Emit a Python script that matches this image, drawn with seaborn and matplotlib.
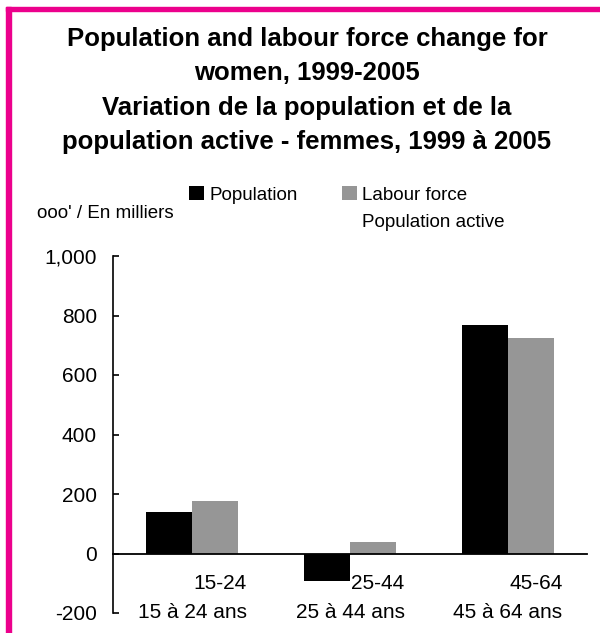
import matplotlib
matplotlib.use("Agg")
import matplotlib.pyplot as plt
import seaborn as sns
import pandas as pd
from matplotlib.patches import Rectangle
from matplotlib.ticker import FuncFormatter

groups = ["15-24", "25-44", "45-64"]
group_labels = ["15-24\n15 à 24 ans", "25-44\n25 à 44 ans", "45-64\n45 à 64 ans"]
series_names = ["Population", "Labour force"]
series_label2 = "Population active"
population = [138, -94, 768]
labour_force = [178, 37, 725]
yticks = [-200, 0, 200, 400, 600, 800, 1000]

df = pd.DataFrame({
    "group": groups * 2,
    "series": [series_names[0]] * 3 + [series_names[1]] * 3,
    "value": population + labour_force,
})

sns.set_theme(style="white")
plt.rcParams["font.family"] = ["Liberation Sans", "DejaVu Sans"]
plt.rcParams["text.color"] = "black"
plt.rcParams["xtick.color"] = "black"
plt.rcParams["ytick.color"] = "black"
plt.rcParams["axes.labelcolor"] = "black"

W, H = 600, 633
fig = plt.figure(figsize=(6, 6.33), dpi=100)
ax = fig.add_axes([113 / W, 1 - 613 / H, (587 - 113) / W, (613 - 256) / H])

sns.barplot(data=df, x="group", y="value", hue="series",
            palette=["#000000", "#969696"], width=0.58, saturation=1,
            linewidth=0, ax=ax)

ax.set_ylim(-200, 1000)
ax.set_xlim(-0.5, 2.5)
ax.set_yticks(yticks)
ax.yaxis.set_major_formatter(FuncFormatter(lambda v, p: f"{v:,.0f}"))
ax.set_xlabel("")
ax.set_ylabel("")
ax.set_xticks(range(len(groups)))
ax.set_xticklabels(group_labels)
ax.tick_params(axis="x", length=0, pad=14.5, labelsize=15, colors="black")
ax.tick_params(axis="y", direction="in", length=4, width=1.2, pad=11.5,
               labelsize=15, colors="black", left=True)

for s in ["top", "right"]:
    ax.spines[s].set_visible(False)
ax.spines["bottom"].set_position(("data", 0))
ax.spines["bottom"].set_linewidth(1.3)
ax.spines["bottom"].set_color("black")
ax.spines["left"].set_linewidth(1.2)
ax.spines["left"].set_color("black")

handles, labels = ax.get_legend_handles_labels()
leg = ax.legend(handles, series_names, ncol=2, frameon=False, loc="upper left",
                bbox_to_anchor=(189 / W, 1 - 186 / H), bbox_transform=fig.transFigure,
                handlelength=0.8, handleheight=0.8, handletextpad=0.3,
                columnspacing=2.34, fontsize=13.5, borderpad=0, borderaxespad=0)

fig.canvas.draw()
for tick in ax.xaxis.get_major_ticks():
    tick.label1.set_multialignment("right")
    tick.label1.set_linespacing(1.67)
bb = leg.get_texts()[1].get_window_extent()
fig.text(bb.x0 / W, 1 - 222 / H, series_label2, fontsize=13.5, va="center", ha="left")

fig.text(37 / W, 1 - 213 / H, "ooo' / En milliers", fontsize=13.5, va="center", ha="left")

fig.text(307 / W, 1 - 27 / H,
         "Population and labour force change for\nwomen, 1999-2005\n"
         "Variation de la population et de la\npopulation active - femmes, 1999 à 2005",
         fontsize=18.5, fontweight="bold", ha="center", va="top", linespacing=1.54)

pink = "#EC008C"
fig.patches.append(Rectangle((6 / W, 0), 5 / W, 1 - 7 / H, transform=fig.transFigure,
                             color=pink, zorder=10))
fig.patches.append(Rectangle((6 / W, 1 - 11 / H), 1 - 6 / W, 4 / H, transform=fig.transFigure,
                             color=pink, zorder=10))

fig.savefig("out.png", dpi=100)
